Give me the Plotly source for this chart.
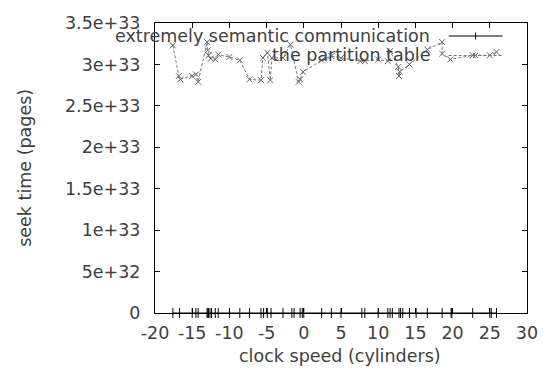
import plotly.graph_objects as go

# Series 1: "extremely semantic communication" (values sit at ~0)
x1 = [-17.6, -16.7, -15.0, -14.5, -14.2, -13.0, -12.9, -12.8, -12.6, -12.4, -11.9, -11.5,
      -10.0, -8.6, -7.3, -5.75, -5.4, -4.9, -4.4, -2.8, -1.6, -1.3, -0.5, -0.2, 0.0,
      2.4, 3.7, 5.0, 7.8, 8.2, 10.0, 11.3, 11.6, 11.9, 12.8, 13.0, 13.3, 14.2, 15.1,
      16.6, 18.6, 19.8, 19.9, 22.7, 25.0, 25.2, 25.9]
y1 = [0.0] * len(x1)

# Series 2: "the partition table" (units of 1e33)
x2 = [-17.6, -16.8, -16.6, -15.0, -14.5, -14.2, -13.0, -12.9, -12.8, -12.5, -11.9, -11.5,
      -10.0, -8.6, -7.3, -5.75, -5.5, -4.9, -4.5, -4.3, -2.8, -1.8, -0.7, -0.5, -0.1,
      2.4, 3.7, 5.0, 7.6, 8.2, 10.0, 11.3, 11.6, 12.7, 12.8, 12.9, 14.2, 16.6, 18.6,
      18.6, 19.7, 22.7, 25.0, 25.9]
y2_e33 = [3.23, 2.86, 2.82, 2.86, 2.88, 2.79, 3.27, 3.17, 3.11, 3.07, 3.06, 3.12,
          3.09, 3.05, 2.82, 2.81, 3.08, 3.14, 2.81, 3.08, 3.08, 3.24, 2.79, 2.82, 2.91,
          3.05, 3.10, 3.08, 3.04, 3.04, 3.06, 3.04, 3.16, 2.97, 2.86, 2.91, 3.00, 3.18, 3.27,
          3.13, 3.06, 3.11, 3.11, 3.15]
y2 = [v * 1e33 for v in y2_e33]

series_names = ["extremely semantic communication", "the partition table"]
x_ticks = [-20, -15, -10, -5, 0, 5, 10, 15, 20, 25, 30]
x_ticktext = ["-20", "-15", "-10", "-5", "0", "5", "10", "15", "20", "25", "30"]
y_ticks = [0, 5e32, 1e33, 1.5e33, 2e33, 2.5e33, 3e33, 3.5e33]
y_ticktext = ["0", "5e+32", "1e+33", "1.5e+33", "2e+33", "2.5e+33", "3e+33", "3.5e+33"]

FONT = "DejaVu Sans"
FS = 17.5
TXT = "#404040"

fig = go.Figure()
fig.add_trace(go.Scatter(
    x=x2, y=y2, mode="lines+markers", name=series_names[1], cliponaxis=False,
    line=dict(color="#777777", width=1, dash="3px,2px"),
    marker=dict(symbol="x-thin", size=6, line=dict(color="#666666", width=1)),
))
fig.add_trace(go.Scatter(
    x=x1, y=y1, mode="lines+markers", name=series_names[0], cliponaxis=False,
    line=dict(color="black", width=1),
    marker=dict(symbol="line-ns", size=7, line=dict(color="black", width=1)),
))

axis_common = dict(
    showgrid=False, zeroline=False, showline=True, linecolor="black", linewidth=1,
    mirror="ticks", ticks="inside", ticklen=5, tickcolor="black", tickwidth=1,
    tickangle=0,
    tickfont=dict(family=FONT, size=FS, color=TXT),
)
fig.update_xaxes(range=[-20, 30], tickvals=x_ticks, ticktext=x_ticktext,
                 ticklabelstandoff=4, **axis_common)
fig.update_yaxes(range=[0, 3.5e33], tickvals=y_ticks, ticktext=y_ticktext,
                 ticklabelstandoff=10, **axis_common)

# legend (gnuplot style: text right-aligned, sample on the right)
W, L, T, H = 380.0, 155.0, 23.0, 290.0
def px(xp): return (xp - L) / W
def py(yp): return (T + H - yp) / H

annotations = [
    dict(text=series_names[0], x=px(438), y=py(36), xref="paper", yref="paper",
         xanchor="right", yanchor="middle", showarrow=False,
         font=dict(family=FONT, size=FS, color=TXT)),
    dict(text=series_names[1], x=px(438), y=py(55.5), xref="paper", yref="paper",
         xanchor="right", yanchor="middle", showarrow=False,
         font=dict(family=FONT, size=FS, color=TXT)),
    dict(text="clock speed (cylinders)", x=px(344), y=py(356), xref="paper", yref="paper",
         xanchor="center", yanchor="middle", showarrow=False,
         font=dict(family=FONT, size=FS, color=TXT)),
    dict(text="seek time (pages)", x=px(22), y=py(168), xref="paper", yref="paper",
         xanchor="center", yanchor="middle", showarrow=False, textangle=-90,
         font=dict(family=FONT, size=FS, color=TXT)),
]
shapes = [
    dict(type="line", xref="paper", yref="paper", x0=px(455), x1=px(510), y0=py(36), y1=py(36),
         line=dict(color="black", width=1)),
    dict(type="line", xref="paper", yref="paper", x0=px(482.5), x1=px(482.5), y0=py(32.5), y1=py(39.5),
         line=dict(color="black", width=1)),
    dict(type="line", xref="paper", yref="paper", x0=px(455), x1=px(510), y0=py(55.5), y1=py(55.5),
         line=dict(color="#777777", width=1, dash="3px,2px")),
    dict(type="line", xref="paper", yref="paper", x0=px(480), x1=px(485), y0=py(53), y1=py(58),
         line=dict(color="#666666", width=1)),
    dict(type="line", xref="paper", yref="paper", x0=px(480), x1=px(485), y0=py(58), y1=py(53),
         line=dict(color="#666666", width=1)),
]

fig.update_layout(
    width=550, height=374, showlegend=False,
    margin=dict(l=155, r=15, t=23, b=61),
    paper_bgcolor="white", plot_bgcolor="white",
    annotations=annotations, shapes=shapes,
)
fig.write_html("out.html")
